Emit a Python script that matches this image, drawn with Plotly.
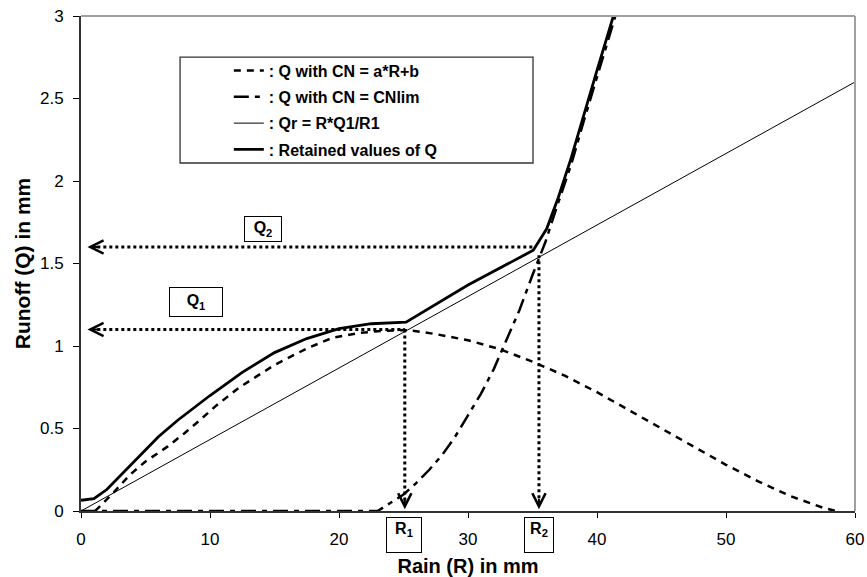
import plotly.graph_objects as go

# ---------------- data ----------------
rain_a = [1.1, 2.5, 3.8, 5, 6.7, 8, 9.2, 10.5, 12.3, 15, 17.5, 19.5, 21.5, 23, 25, 26, 27.5, 30,
          32.5, 35, 37.5, 40, 42.5, 45, 47.5, 50, 52.5, 55, 57.5, 58.5]
q_a = [0, 0.11, 0.22, 0.3, 0.39, 0.47, 0.55, 0.64, 0.75, 0.885, 0.985, 1.05, 1.078, 1.09, 1.097, 1.09,
       1.072, 1.035, 0.98, 0.905, 0.82, 0.72, 0.61, 0.5, 0.39, 0.28, 0.18, 0.09, 0.02, 0]

rain_lim = [0, 23, 24, 25, 26, 27, 28, 29, 30, 31, 32, 33, 34, 35, 36, 37, 38, 39, 40, 41, 42]
q_lim = [0, 0, 0.05, 0.1, 0.17, 0.25, 0.34, 0.45, 0.58, 0.71, 0.86, 1.04, 1.22, 1.43, 1.63, 1.87,
         2.1, 2.37, 2.63, 2.89, 3.15]

rain_r = [0, 60]
q_r = [0, 2.6]

rain_ret = [0, 1, 2, 3, 4, 5, 6, 7.5, 9, 10, 12.5, 15, 17.5, 20, 22.5, 24, 25.2, 30, 35.06, 36.1,
            37, 38, 39, 40, 41, 42]
q_ret = [0.065, 0.075, 0.13, 0.21, 0.29, 0.37, 0.45, 0.55, 0.64, 0.7, 0.84, 0.96, 1.045, 1.105, 1.135,
         1.14, 1.145, 1.37, 1.58, 1.71, 1.9, 2.14, 2.41, 2.67, 2.93, 3.19]

R1, Q1 = 25.1, 1.1
R2, Q2 = 35.5, 1.6
Q2_end = 35.0
R2_top = 1.55
arrow_tip_x = 0.5

names = [": Q with CN = a*R+b", ": Q with CN = CNlim", ": Qr = R*Q1/R1", ": Retained values of Q"]
x_ticks = [0, 10, 20, 30, 40, 50, 60]
y_ticks = [0, 0.5, 1, 1.5, 2, 2.5, 3]

FONT = "Liberation Sans, Arial, sans-serif"

fig = go.Figure()

# dotted guide lines
dot = dict(color="black", width=3, dash="3px,3px")
fig.add_trace(go.Scatter(x=[arrow_tip_x + 0.3, Q2_end], y=[Q2, Q2], mode="lines", line=dot,
                         showlegend=False, hoverinfo="skip"))
fig.add_trace(go.Scatter(x=[arrow_tip_x + 0.3, R1], y=[Q1, Q1], mode="lines", line=dot,
                         showlegend=False, hoverinfo="skip"))
fig.add_trace(go.Scatter(x=[R1, R1], y=[Q1, 0.05], mode="lines", line=dot,
                         showlegend=False, hoverinfo="skip"))
fig.add_trace(go.Scatter(x=[R2, R2], y=[R2_top, 0.05], mode="lines", line=dot,
                         showlegend=False, hoverinfo="skip"))

fig.add_trace(go.Scatter(x=rain_a, y=q_a, mode="lines", name=names[0], legendgroup="a",
                         line=dict(color="black", width=2.5, dash="7px,6px")))
fig.add_trace(go.Scatter(x=rain_lim, y=q_lim, mode="lines", name=names[1], legendgroup="b",
                         line=dict(color="black", width=2.5, dash="15px,6px,5px,6px")))
fig.add_trace(go.Scatter(x=rain_r, y=q_r, mode="lines", name=names[2], legendgroup="c",
                         line=dict(color="black", width=1)))
fig.add_trace(go.Scatter(x=rain_ret, y=q_ret, mode="lines", name=names[3], legendgroup="d",
                         line=dict(color="black", width=2.8)))

# arrow heads
for (x, y, ax, ay) in [(arrow_tip_x, Q2, 12, 0), (arrow_tip_x, Q1, 12, 0), (R1, 0.01, 0, -12),
                       (R2, 0.01, 0, -12)]:
    fig.add_annotation(x=x, y=y, xref="x", yref="y", ax=ax, ay=ay, text="", showarrow=True,
                       arrowhead=5, arrowsize=1.3, arrowwidth=2, arrowcolor="black")

# labelled boxes
box = dict(showarrow=False, bordercolor="black", borderwidth=1, borderpad=2, bgcolor="white",
           font=dict(family=FONT, size=16, color="black", weight="bold"))
fig.add_annotation(x=14.1, y=1.712, xref="x", yref="y", text="Q<sub>2</sub>", width=32, height=20, **box)
fig.add_annotation(x=8.9, y=1.264, xref="x", yref="y", text="Q<sub>1</sub>", width=48, height=24, **box)
fig.add_annotation(x=R1 - 0.06, y=-0.0485, xref="x", yref="paper", yanchor="middle",
                   text="R<sub>1</sub>", width=30, height=30, valign="top", **box)
fig.add_annotation(x=R2 - 0.03, y=-0.0485, xref="x", yref="paper", yanchor="middle",
                   text="R<sub>2</sub>", width=24, height=30, valign="top", **box)

# legend frame and plot border
fig.add_shape(type="rect", xref="paper", yref="paper", x0=0.128, x1=0.584, y0=0.703, y1=0.917,
              line=dict(color="#333", width=1.3), fillcolor="white", layer="below")
fig.add_shape(type="line", xref="paper", yref="paper", x0=0, x1=1, y0=1, y1=1,
              line=dict(color="#a0a0a0", width=2))
fig.add_shape(type="line", xref="paper", yref="paper", x0=1, x1=1, y0=0, y1=1,
              line=dict(color="#a0a0a0", width=2))

fig.update_layout(
    width=867, height=577,
    margin=dict(l=81, r=12, t=16, b=66, autoexpand=False),
    paper_bgcolor="white", plot_bgcolor="white",
    font=dict(family=FONT, color="black"),
    showlegend=True,
    legend=dict(x=0.191, y=0.924, xanchor="left", yanchor="top", bgcolor="rgba(0,0,0,0)",
                borderwidth=0, font=dict(family=FONT, size=16, color="black", weight="bold"),
                tracegroupgap=2.5),
    xaxis=dict(range=[0, 60], tickvals=x_ticks, ticks="outside", ticklen=5, tickcolor="black",
               showline=True, linecolor="#333", linewidth=2, showgrid=False, zeroline=False,
               tickfont=dict(family=FONT, size=17, color="black"), ticklabelstandoff=7,
               layer="below traces", automargin=False,
               title=dict(text="Rain (R) in mm", standoff=24,
                          font=dict(family=FONT, size=20, color="black", weight="bold"))),
    yaxis=dict(range=[0, 3], tickvals=y_ticks, ticks="outside", ticklen=6, tickcolor="black",
               showline=True, linecolor="#333", linewidth=2, showgrid=False, zeroline=False,
               tickfont=dict(family=FONT, size=17, color="black"), ticklabelstandoff=6,
               layer="below traces", automargin=False,
               title=dict(text="Runoff (Q) in mm", standoff=4,
                          font=dict(family=FONT, size=21, color="black", weight="bold"))),
)

fig.write_html("out.html")
